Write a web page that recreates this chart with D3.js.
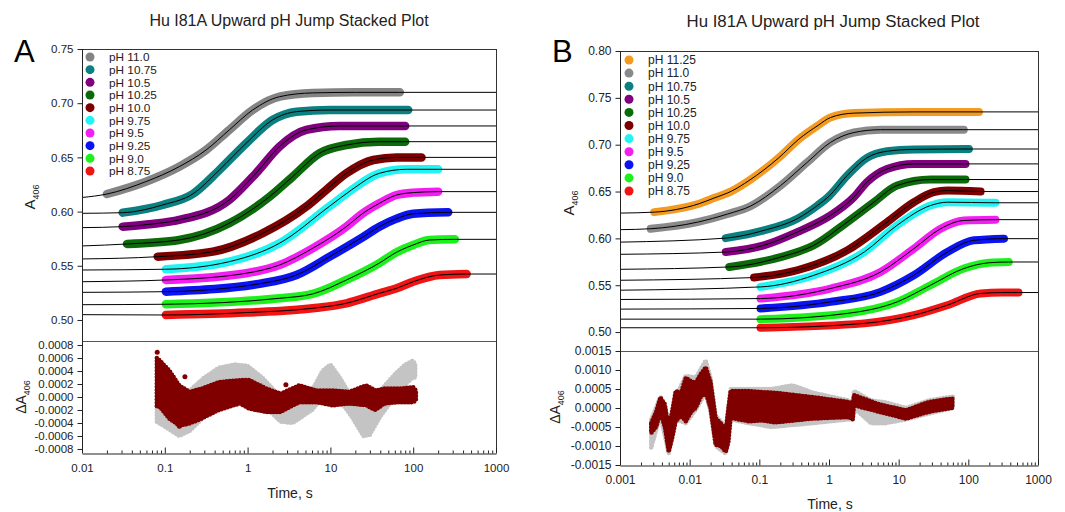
<!DOCTYPE html>
<html><head><meta charset="utf-8">
<script src="https://cdn.jsdelivr.net/npm/d3@7"></script>
<style>
body{margin:0;background:#fff;}
svg{display:block;font-family:"Liberation Sans",Arial,sans-serif;}
</style>
</head><body>
<svg id="chart" width="1065" height="512"></svg>
<script>
// ---------------- DATA ----------------
const titleText = "Hu I81A Upward pH Jump Stacked Plot";
const xTicksA = [0.01, 0.1, 1, 10, 100, 1000];
const xTicksB = [0.001, 0.01, 0.1, 1, 10, 100, 1000];
const yTicksTopA = [0.50, 0.55, 0.60, 0.65, 0.70, 0.75];
const yTicksTopB = [0.50, 0.55, 0.60, 0.65, 0.70, 0.75, 0.80];
const yTicksResA = [-0.0008, -0.0006, -0.0004, -0.0002, 0, 0.0002, 0.0004, 0.0006, 0.0008];
const yTicksResB = [-0.0015, -0.0010, -0.0005, 0, 0.0005, 0.0010, 0.0015];

const legendA = ["pH 11.0","pH 10.75","pH 10.5","pH 10.25","pH 10.0","pH 9.75","pH 9.5","pH 9.25","pH 9.0","pH 8.75"];
const legendB = ["pH 11.25","pH 11.0","pH 10.75","pH 10.5","pH 10.25","pH 10.0","pH 9.75","pH 9.5","pH 9.25","pH 9.0","pH 8.75"];

// Panel A traces: [time (s), A406]
const A_ph11_0  = [[0.020,0.6162],[0.059,0.6276],[0.149,0.6414],[0.315,0.6568],[0.60,0.6753],[1.15,0.6937],[2.43,0.7060],[6.1,0.7095],[20,0.7100],[69,0.7100]];
const A_ph10_75 = [[0.031,0.5990],[0.094,0.6061],[0.22,0.6165],[0.456,0.6384],[0.96,0.6630],[2.0,0.6845],[3.9,0.6922],[9.8,0.6937],[87,0.6937]];
const A_ph10_5  = [[0.031,0.5861],[0.07,0.5885],[0.149,0.5923],[0.6,0.6107],[1.26,0.6353],[2.43,0.6600],[5.1,0.6753],[12.9,0.6790],[80,0.6790]];
const A_ph10_25 = [[0.035,0.5701],[0.149,0.5738],[0.6,0.5892],[1.84,0.6137],[3.5,0.6322],[7.4,0.6538],[15.6,0.6614],[39,0.6645],[80,0.6645]];
const A_ph10_0  = [[0.082,0.5584],[0.38,0.5630],[1.52,0.5800],[5.1,0.6045],[8.9,0.6200],[15.6,0.6353],[33,0.6476],[63,0.6500],[126,0.6500]];
const A_ph9_75  = [[0.103,0.5468],[0.6,0.5538],[2.43,0.5708],[9.8,0.6050],[18,0.6200],[39,0.6353],[83,0.6390],[200,0.6390]];
const A_ph9_5   = [[0.103,0.5369],[0.96,0.5431],[2.43,0.5507],[6.1,0.5661],[15.6,0.5861],[24.7,0.5984],[39,0.6076],[63,0.6153],[100,0.6175],[200,0.6184]];
const A_ph9_25  = [[0.103,0.5261],[1.52,0.5339],[3.9,0.5415],[9.8,0.5584],[24.7,0.5765],[39,0.5860],[63,0.5935],[100,0.5980],[265,0.5993]];
const A_ph9_0   = [[0.103,0.5145],[2.43,0.5200],[6.1,0.5240],[15.6,0.5369],[39,0.5525],[63,0.5625],[100,0.5692],[158,0.5738],[319,0.5744]];
const A_ph8_75  = [[0.103,0.5046],[0.96,0.5068],[6.1,0.5108],[15.6,0.5154],[39,0.5246],[63,0.5292],[100,0.5353],[209,0.5415],[442,0.5424]];
const fitLeftA  = [0.6130,0.5984,0.5852,0.5683,0.5563,0.5461,0.5353,0.5255,0.5141,0.5049];

// Panel B traces
const B_ph11_25 = [[0.0031,0.6280],[0.0136,0.6370],[0.0223,0.6430],[0.04,0.6505],[0.071,0.6617],[0.19,0.6860],[0.37,0.7060],[0.71,0.7210],[1.05,0.7290],[2.28,0.7337],[16.5,0.7350],[142,0.7350]];
const B_ph11_0  = [[0.00276,0.6103],[0.0129,0.6173],[0.035,0.6260],[0.075,0.6345],[0.202,0.6564],[0.487,0.6812],[1.05,0.7024],[2.28,0.7130],[5.5,0.7160],[86,0.7160]];
const B_ph10_75 = [[0.033,0.6003],[0.116,0.6085],[0.35,0.6210],[0.68,0.6350],[1.0,0.6450],[1.82,0.6670],[3.5,0.6860],[6.8,0.6930],[16.5,0.6950],[102,0.6954]];
const B_ph10_5  = [[0.033,0.5854],[0.116,0.5926],[0.35,0.6067],[1.05,0.6245],[2.28,0.6440],[3.5,0.6600],[6.8,0.6741],[16.5,0.6795],[91,0.6795]];
const B_ph10_25 = [[0.037,0.5695],[0.202,0.5800],[0.607,0.5926],[1.82,0.6173],[4.4,0.6386],[9.5,0.6564],[28.7,0.6628],[91,0.6628]];
const B_ph10_0  = [[0.084,0.5582],[0.35,0.5660],[1.82,0.5872],[6.8,0.6173],[16.5,0.6386],[32,0.6493],[50,0.6510],[150,0.6500]];
const B_ph9_75  = [[0.104,0.5482],[0.607,0.5606],[3.2,0.5854],[9.5,0.6140],[28.7,0.6351],[50,0.6386],[245,0.6380]];
const B_ph9_5   = [[0.104,0.5358],[1.05,0.5465],[5.5,0.5641],[16.5,0.5890],[40,0.6103],[86,0.6191],[245,0.6200]];
const B_ph9_25  = [[0.104,0.5252],[1.05,0.5322],[5.5,0.5429],[16.5,0.5606],[50,0.5854],[120,0.5979],[325,0.5997]];
const B_ph9_0   = [[0.104,0.5138],[1.82,0.5199],[9.5,0.5322],[28.7,0.5500],[86,0.5678],[200,0.5740],[380,0.5748]];
const B_ph8_75  = [[0.104,0.5046],[3.2,0.5093],[16.5,0.5180],[50,0.5287],[150,0.5412],[300,0.5422],[525,0.5422]];
const fitLeftB  = [0.6270,0.6093,0.5960,0.5830,0.5670,0.5553,0.5447,0.5348,0.5245,0.5138,0.5046];

// Residual envelopes: [time, upper, lower]
const resA_grey = [[0.080,0.00020,-0.00038],[0.12,0.00012,-0.00052],[0.15,0.0000,-0.00060],[0.2,0.0001,-0.00052],[0.3,0.0003,-0.0003],[0.45,0.00045,-0.00012],[0.7,0.0005,0.0000],[1.0,0.00048,0.0000],[1.5,0.0003,-0.0001],[2.5,0.0000,-0.00038],[3.5,-0.0001,-0.0004],[6,0.0001,-0.0002],[8,0.0004,0.0000],[10,0.0005,0.0001],[13,0.0003,-0.00005],[18,0.0000,-0.0003],[25,-0.0002,-0.0006],[30,-0.0002,-0.00058],[40,0.0001,-0.0003],[60,0.00035,0.0000],[80,0.0005,0.0002],[100,0.00056,0.0003],[106,0.0005,0.0003]];
const resA_red  = [[0.080,0.00060,-0.00015],[0.087,0.00056,-0.00015],[0.113,0.00041,-0.00033],[0.149,0.00018,-0.00044],[0.198,0.00008,-0.00041],[0.28,0.00013,-0.00033],[0.45,0.00023,-0.0002],[0.80,0.00026,-0.0001],[1.05,0.00026,-0.00018],[1.69,0.00013,-0.00023],[2.5,0.00005,-0.00023],[4.2,0.00018,-0.00008],[6.8,0.0001,-0.00008],[10.6,0.0001,-0.00013],[17,0.00008,-0.0001],[27,0.00018,-0.00013],[35,0.0001,-0.0002],[45,0.00013,-0.0001],[69,0.00013,-0.00008],[100,0.00015,-0.00008],[108,0.0001,-0.00005]];
const resA_reddots = [[0.081,0.00069],[0.175,0.00031],[0.15,-0.00045],[2.9,0.00019]];
const resB_grey = [[0.0028,-0.0003,-0.00105],[0.0038,0.0003,-0.0002],[0.005,-0.0004,-0.0012],[0.0063,0.0003,-0.0003],[0.0088,0.00085,-0.0004],[0.0122,0.0008,-0.00005],[0.017,0.00125,0.0004],[0.0199,0.0008,-0.0001],[0.0236,-0.0002,-0.001],[0.033,-0.0005,-0.0012],[0.0387,0.0005,-0.0003],[0.07,0.0005,-0.0004],[0.15,0.0005,-0.0005],[0.3,0.0006,-0.00045],[0.6,0.0004,-0.0004],[1.93,0.0002,-0.0003],[2.2,0.0001,-0.0003],[2.28,0.00045,0.0],[4,0.0002,-0.0004],[6.5,0.00015,-0.0004],[12.7,0.0,-0.0003],[27,0.0002,-0.00015],[60,0.0003,0.0]];
const resB_red  = [[0.0028,-0.0004,-0.00066],[0.0033,-0.0001,-0.0005],[0.0038,0.00028,-0.00012],[0.0044,0.0001,-0.0005],[0.0050,-0.00053,-0.00115],[0.0056,-0.0001,-0.0008],[0.0063,0.00045,-0.00035],[0.0075,0.0004,-0.0002],[0.0088,0.0008,-0.00035],[0.0105,0.0007,-0.0001],[0.0122,0.00067,0.0],[0.0145,0.0009,0.0003],[0.017,0.00107,0.00040],[0.0199,0.0007,0.0],[0.0236,-0.00027,-0.00097],[0.028,-0.0004,-0.001],[0.033,-0.0006,-0.00115],[0.036,0.0,-0.0009],[0.0387,0.00045,-0.00026],[0.071,0.00045,-0.00035],[0.11,0.00042,-0.00033],[0.17,0.0004,-0.00038],[0.57,0.00029,-0.00028],[1.93,0.00016,-0.00024],[2.2,0.0001,-0.0003],[2.28,0.00034,0.00007],[5.2,0.0001,-0.0001],[12.7,-0.00006,-0.00028],[27,0.00016,-0.0001],[59,0.00025,0.0]];

// ---------------- STYLE / LAYOUT ----------------
const colorsA = ["#848484","#0a8080","#800080","#0b6b0b","#7d0000","#22f4f4","#f21ef2","#0b14f0","#1ef01e","#f01414"];
const colorsB = ["#f39a20","#8a8a8a","#0a8080","#800080","#0b6b0b","#7d0000","#22f4f4","#f21ef2","#0b14f0","#1ef01e","#f01414"];
const seriesA = [A_ph11_0,A_ph10_75,A_ph10_5,A_ph10_25,A_ph10_0,A_ph9_75,A_ph9_5,A_ph9_25,A_ph9_0,A_ph8_75];
const seriesB = [B_ph11_25,B_ph11_0,B_ph10_75,B_ph10_5,B_ph10_25,B_ph10_0,B_ph9_75,B_ph9_5,B_ph9_25,B_ph9_0,B_ph8_75];

const svg = d3.select("#chart");

function fmtX(d){ return String(d); }

function drawPanel(cfg){
  const g = svg.append("g");
  const x = d3.scaleLog().domain(cfg.xDomain).range([cfg.left, cfg.right]);
  const yT = d3.scaleLinear().domain(cfg.topDomain).range([cfg.sep, cfg.top]);
  const yR = d3.scaleLinear().domain(cfg.resDomain).range([cfg.bottom, cfg.sep]);

  g.append("text").attr("x", cfg.titleX).attr("y", cfg.titleY).attr("text-anchor","middle")
    .attr("font-size", cfg.titleSize).attr("fill","#222").text(titleText);
  g.append("text").attr("x", cfg.letterX).attr("y", cfg.letterY)
    .attr("font-size", 31).attr("fill","#000").text(cfg.letter);

  const cid = "clip" + cfg.letter;
  svg.append("clipPath").attr("id", cid).append("rect")
    .attr("x", cfg.left).attr("y", cfg.top).attr("width", cfg.right-cfg.left).attr("height", cfg.sep-cfg.top);
  const cidR = "clipR" + cfg.letter;
  svg.append("clipPath").attr("id", cidR).append("rect")
    .attr("x", cfg.left).attr("y", cfg.sep+1).attr("width", cfg.right-cfg.left).attr("height", cfg.bottom-cfg.sep-1);

  const plot = g.append("g").attr("clip-path", `url(#${cid})`);
  const line = d3.line().x(d=>x(d[0])).y(d=>yT(d[1])).curve(d3.curveMonotoneX);

  cfg.series.forEach((s,i)=>{
    plot.append("path").attr("d", line(s)).attr("fill","none")
      .attr("stroke", cfg.colors[i]).attr("stroke-width", cfg.band)
      .attr("stroke-linecap","round").attr("stroke-linejoin","round");
  });
  cfg.series.forEach((s,i)=>{
    const pts = [[cfg.xDomain[0], cfg.fitLeft[i]]].concat(s).concat([[cfg.xDomain[1], s[s.length-1][1]]]);
    plot.append("path").attr("d", line(pts)).attr("fill","none")
      .attr("stroke","#000").attr("stroke-width",1);
  });

  const rplot = g.append("g").attr("clip-path", `url(#${cidR})`);
  const area = d3.area().x(d=>x(d[0])).y0(d=>yR(d[2])).y1(d=>yR(d[1])).curve(d3.curveLinear);
  [[cfg.resGrey,"#c4c4c4"],[cfg.resRed,"#800000"]].forEach(([data,col])=>{
    rplot.append("path").attr("d", area(data)).attr("fill",col)
      .attr("stroke",col).attr("stroke-width",1.5).attr("stroke-linejoin","round");
    rplot.append("path").attr("d", area(data)).attr("fill","none")
      .attr("stroke",col).attr("stroke-width",4.5).attr("stroke-linecap","round")
      .attr("stroke-dasharray","0 3.2");
  });
  if (cfg.resDots) rplot.selectAll("circle.rd").data(cfg.resDots).join("circle")
    .attr("cx", d=>x(d[0])).attr("cy", d=>yR(d[1])).attr("r",2.5).attr("fill","#800000");

  const fc = "#333";
  g.append("line").attr("x1",cfg.left).attr("x2",cfg.right).attr("y1",cfg.top+0.5).attr("y2",cfg.top+0.5).attr("stroke",fc);
  g.append("line").attr("x1",cfg.right+0.5).attr("x2",cfg.right+0.5).attr("y1",cfg.top).attr("y2",cfg.bottom).attr("stroke",fc);
  g.append("line").attr("x1",cfg.left).attr("x2",cfg.right).attr("y1",cfg.sep+0.5).attr("y2",cfg.sep+0.5).attr("stroke","#555").attr("stroke-width",1.2);

  const ta = g.append("g").attr("transform",`translate(${cfg.left+0.5},0)`)
    .call(d3.axisLeft(yT).tickValues(cfg.yTicksTop).tickSize(5).tickSizeOuter(0).tickPadding(4).tickFormat(d3.format(".2f")));
  ta.select(".domain").attr("d", `M0,${cfg.top}V${cfg.sep}`);
  const ra = g.append("g").attr("transform",`translate(${cfg.left+0.5},0)`)
    .call(d3.axisLeft(yR).tickValues(cfg.yTicksRes).tickSize(5).tickSizeOuter(0).tickPadding(4).tickFormat(d=>d.toFixed(4)));
  ra.select(".domain").attr("d", `M0,${cfg.sep}V${cfg.bottom}`);
  const xa = g.append("g").attr("transform",`translate(0,${cfg.bottom+0.5})`)
    .call(d3.axisBottom(x).tickValues(cfg.xTicks).tickSize(-6).tickSizeOuter(0).tickPadding(10).tickFormat(fmtX));
  const minors = [];
  cfg.xTicks.slice(0,-1).forEach(d=>{ for(let k=2;k<10;k++) minors.push(d*k); });
  xa.selectAll("line.minor").data(minors).join("line").attr("class","minor")
    .attr("x1", d=>x(d)+0.5).attr("x2", d=>x(d)+0.5).attr("y1",0).attr("y2",-3).attr("stroke","#000");
  [ta, ra, xa].forEach(a=>{
    a.selectAll("text").attr("font-size", cfg.tickSize).attr("fill","#222").attr("font-family","Liberation Sans, Arial, sans-serif");
    a.selectAll("line,path").attr("stroke","#222");
  });

  const yl = g.append("text").attr("transform",`translate(${cfg.ylabX},${cfg.ylabY}) rotate(-90)`)
    .attr("text-anchor","middle").attr("font-size",15).attr("fill","#222");
  yl.append("tspan").text("A");
  yl.append("tspan").attr("dy",4).attr("font-size",9).text("406");
  const rl = g.append("text").attr("transform",`translate(${cfg.rlabX},${cfg.rlabY}) rotate(-90)`)
    .attr("text-anchor","middle").attr("font-size",14).attr("fill","#222");
  rl.append("tspan").text("\u0394A");
  rl.append("tspan").attr("dy",4).attr("font-size",9).text("406");
  g.append("text").attr("x", cfg.xlabX).attr("y", cfg.xlabY).attr("text-anchor","middle")
    .attr("font-size",14).attr("fill","#222").text("Time, s");

  const lg = g.append("g");
  cfg.legend.forEach((name,i)=>{
    const cy = cfg.legY + i*cfg.legStep;
    lg.append("circle").attr("cx",cfg.legX).attr("cy",cy).attr("r",4.5).attr("fill",cfg.colors[i]);
    lg.append("text").attr("x",cfg.legX+19).attr("y",cy).attr("dy","0.36em")
      .attr("font-size",cfg.legSize).attr("fill","#222").text(name);
  });
}

drawPanel({
  letter:"A", letterX:14, letterY:62, titleX:289, titleY:26, titleSize:16,
  left:82, right:496, top:49, sep:341, bottom:453,
  xDomain:[0.01,1000], topDomain:[0.4806,0.75], resDomain:[-0.000862,0.000862],
  xTicks:xTicksA, yTicksTop:yTicksTopA, yTicksRes:yTicksResA,
  series:seriesA, fitLeft:fitLeftA, colors:colorsA, band:8.5,
  resGrey:resA_grey, resRed:resA_red, resDots:resA_reddots,
  tickSize:11.5, ylabX:35, ylabY:197, rlabX:26, rlabY:397, xlabX:290, xlabY:498,
  legend:legendA, legX:90, legY:57, legStep:12.67, legSize:11.8
});
drawPanel({
  letter:"B", letterX:552, letterY:62, titleX:833, titleY:27, titleSize:16.8,
  left:620, right:1038, top:51, sep:351, bottom:465,
  xDomain:[0.001,1000], topDomain:[0.4798,0.80], resDomain:[-0.0015,0.0015],
  xTicks:xTicksB, yTicksTop:yTicksTopB, yTicksRes:yTicksResB,
  series:seriesB, fitLeft:fitLeftB, colors:colorsB, band:8,
  resGrey:resB_grey, resRed:resB_red, resDots:null,
  tickSize:12, ylabX:574, ylabY:203, rlabX:560, rlabY:407, xlabX:830, xlabY:509,
  legend:legendB, legX:629, legY:60, legStep:13.1, legSize:12
});
</script>
</body></html>
